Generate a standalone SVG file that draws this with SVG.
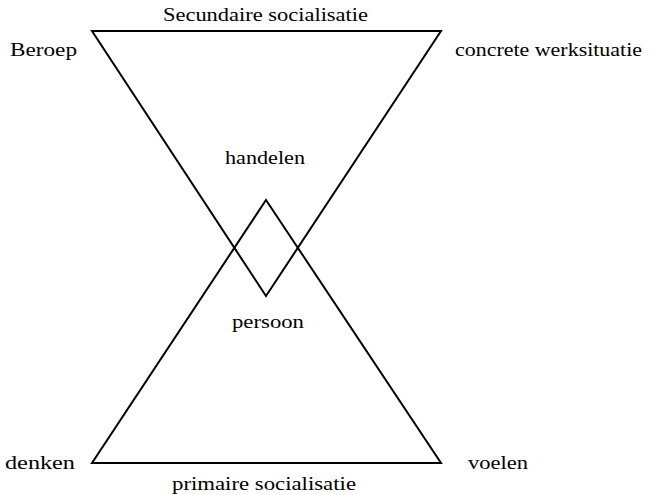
<svg xmlns="http://www.w3.org/2000/svg" width="654" height="495" viewBox="0 0 654 495">
<style>
text{font-family:"Liberation Serif","DejaVu Serif",serif;font-size:18px;fill:#000}
.s{fill:none;stroke:#000;stroke-width:2}
</style>
<rect width="654" height="495" fill="#fff"/>
<g id="connectors">
<polygon id="top-triangle" class="s" points="92,31 441,31 266,296"/>
<polygon id="bottom-triangle" class="s" points="266,200 441,463 92,463"/>
</g>
<g id="n-sec"><text x="163" y="21" textLength="205" lengthAdjust="spacingAndGlyphs">Secundaire socialisatie</text></g>
<g id="n-beroep"><text x="10" y="56" textLength="67" lengthAdjust="spacingAndGlyphs">Beroep</text></g>
<g id="n-concrete"><text x="455" y="56" textLength="187" lengthAdjust="spacingAndGlyphs">concrete werksituatie</text></g>
<g id="n-handelen"><text x="225" y="164" textLength="80" lengthAdjust="spacingAndGlyphs">handelen</text></g>
<g id="n-persoon"><text x="232" y="328" textLength="72" lengthAdjust="spacingAndGlyphs">persoon</text></g>
<g id="n-denken"><text x="5" y="469" textLength="70" lengthAdjust="spacingAndGlyphs">denken</text></g>
<g id="n-voelen"><text x="468" y="469" textLength="60" lengthAdjust="spacingAndGlyphs">voelen</text></g>
<g id="n-prim"><text x="172" y="490" textLength="184" lengthAdjust="spacingAndGlyphs">primaire socialisatie</text></g>
</svg>
